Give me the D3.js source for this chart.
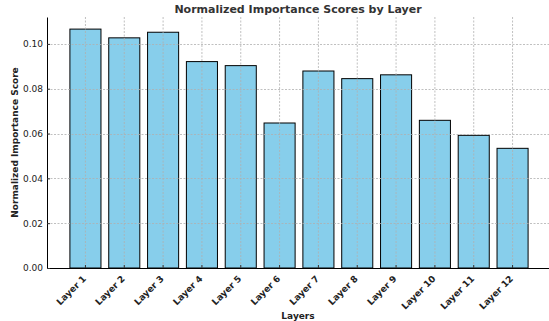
<!DOCTYPE html>
<html>
<head>
<meta charset="utf-8">
<script src="https://cdn.jsdelivr.net/npm/d3@7"></script>
<style>
    body { margin: 0; background: #fff; }
    text { font-family: "DejaVu Sans", sans-serif; }
</style>
</head>
<body>
<svg id="chart" width="549" height="321"></svg>
<script>
(function () {

    let layers = ["Layer 1", "Layer 2", "Layer 3", "Layer 4", "Layer 5", "Layer 6",
        "Layer 7", "Layer 8", "Layer 9", "Layer 10", "Layer 11", "Layer 12"];
    let scores = [0.1066, 0.1027, 0.1052, 0.0921, 0.0903, 0.0647,
        0.0879, 0.0845, 0.0862, 0.0659, 0.0592, 0.0534];
    let yTicks = [0.00, 0.02, 0.04, 0.06, 0.08, 0.10];

    let data = layers.map((layer, i) => ({ layer: layer, score: scores[i] }));

    let margin = { top: 17, right: 0, bottom: 53, left: 47 };
    let canvas = d3.select("#chart");
    let width = +canvas.attr("width");
    let height = +canvas.attr("height");
    let innerW = 504;
    let innerH = height - margin.top - margin.bottom;

    // matplotlib-like band: 0.8 bar width, 0.59 step from axis to first bar
    let xScale = d3.scaleBand()
        .domain(layers)
        .range([0, innerW])
        .paddingInner(0.2)
        .paddingOuter(0.59);

    let yScale = d3.scaleLinear()
        .domain([0, 0.112])
        .range([innerH, 0]);

    let g = canvas.append("g")
        .attr("transform", `translate(${margin.left}, ${margin.top})`);

    g.selectAll("rect.bar")
        .data(data)
        .enter()
        .append("rect")
        .attr("class", "bar")
        .attr("x", d => xScale(d.layer))
        .attr("y", d => yScale(d.score))
        .attr("width", xScale.bandwidth())
        .attr("height", d => innerH - yScale(d.score))
        .attr("fill", "#87ceeb")
        .attr("stroke", "#000")
        .attr("stroke-width", 1);

    // grid on top of bars
    let grid = g.append("g").attr("class", "grid");
    grid.selectAll("line.h")
        .data(yTicks)
        .enter()
        .append("line")
        .attr("x1", 0)
        .attr("x2", innerW)
        .attr("y1", d => Math.round(yScale(d)) + 0.5)
        .attr("y2", d => Math.round(yScale(d)) + 0.5)
        .attr("stroke", "#b0b0b0")
        .attr("stroke-width", 0.8)
        .attr("stroke-dasharray", "2,1.5");
    grid.selectAll("line.v")
        .data(layers)
        .enter()
        .append("line")
        .attr("x1", d => xScale(d) + xScale.bandwidth() / 2)
        .attr("x2", d => xScale(d) + xScale.bandwidth() / 2)
        .attr("y1", 0)
        .attr("y2", innerH)
        .attr("stroke", "#b0b0b0")
        .attr("stroke-width", 0.8)
        .attr("stroke-dasharray", "2,1.5");

    let xAxis = d3.axisBottom(xScale).tickSizeInner(-3).tickSizeOuter(0).tickPadding(6);
    let yAxis = d3.axisLeft(yScale).tickValues(yTicks).tickFormat(d3.format(".2f"))
        .tickSizeInner(-3).tickSizeOuter(0).tickPadding(4);

    let gx = g.append("g")
        .attr("transform", `translate(0, ${innerH})`)
        .call(xAxis);
    gx.select(".domain").attr("stroke", "#000").attr("stroke-width", 1);
    gx.selectAll(".tick line").attr("stroke", "#333");
    gx.selectAll(".tick text")
        .attr("font-size", 9)
        .attr("font-weight", "bold")
        .attr("fill", "#222")
        .attr("text-anchor", "end")
        .attr("y", 0)
        .attr("dy", "0.35em")
        .attr("transform", "translate(-1, 9) rotate(-45)");

    let gy = g.append("g").call(yAxis);
    gy.select(".domain").attr("stroke", "#000").attr("stroke-width", 1);
    gy.selectAll(".tick line").attr("stroke", "#333");
    gy.selectAll(".tick text")
        .attr("font-size", 9)
        .attr("fill", "#222");

    canvas.append("text")
        .attr("x", 298)
        .attr("y", 13)
        .attr("text-anchor", "middle")
        .attr("font-size", 11)
        .attr("font-weight", "bold")
        .attr("fill", "#333")
        .text("Normalized Importance Scores by Layer");

    canvas.append("text")
        .attr("x", 298)
        .attr("y", 319)
        .attr("text-anchor", "middle")
        .attr("font-size", 9)
        .attr("font-weight", "bold")
        .attr("fill", "#222")
        .text("Layers");

    canvas.append("text")
        .attr("transform", `translate(18, ${margin.top + innerH / 2}) rotate(-90)`)
        .attr("text-anchor", "middle")
        .attr("font-size", 9)
        .attr("font-weight", "bold")
        .attr("fill", "#222")
        .text("Normalized Importance Score");

})();
</script>
</body>
</html>
